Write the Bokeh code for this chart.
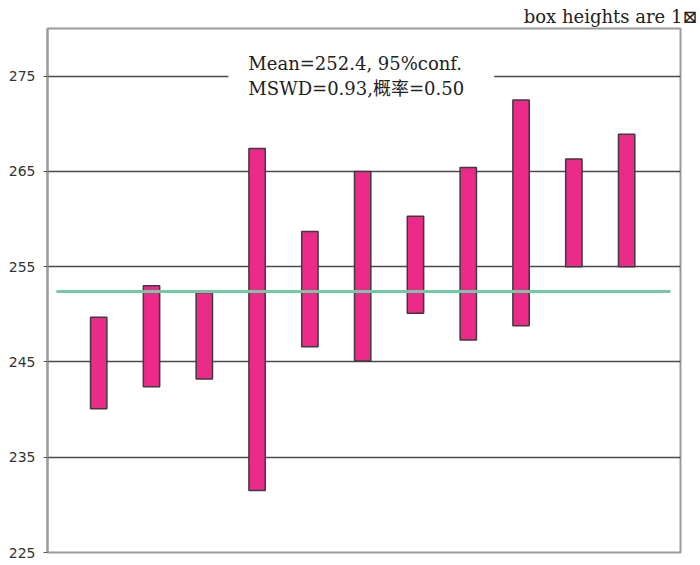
from bokeh.plotting import figure
from bokeh.models import Label, FixedTicker, ColumnDataSource, Range1d
from bokeh.embed import file_html
from bokeh.resources import INLINE

# data
sample_no = [1, 2, 3, 4, 5, 6, 7, 8, 9, 10, 11]
box_low = [240.1, 242.4, 243.2, 231.5, 246.6, 245.1, 250.1, 247.3, 248.8, 255.0, 255.0]
box_high = [249.7, 253.0, 252.3, 267.4, 258.7, 265.0, 260.3, 265.4, 272.5, 266.3, 268.9]
mean_value = 252.4
mean_x = [0.2, 11.83]
y_ticks = [225, 235, 245, 255, 265, 275]
grid_ticks = [235, 245, 255, 265, 275]
note_text = "Mean=252.4, 95%conf.\nMSWD=0.93,概率=0.50"
corner_text = "box heights are 1⊠"

serif = "'DejaVu Serif', 'Noto Sans CJK SC'"

p = figure(width=700, height=565, output_backend="svg", toolbar_location=None,
           x_range=Range1d(0.03, 12.02), y_range=Range1d(225, 280),
           min_border_left=47, min_border_right=20, min_border_top=28,
           min_border_bottom=13)
p.xaxis.visible = False
p.xgrid.visible = False
p.background_fill_color = "white"
p.border_fill_color = "white"
p.outline_line_color = "#9a9a9a"
p.outline_line_width = 2

p.title.text = corner_text
p.title.align = "right"
p.title.offset = -17
p.title.standoff = 4
p.title.text_font = serif
p.title.text_font_size = "18px"
p.title.text_font_style = "normal"
p.title.text_color = "#222222"

p.yaxis.ticker = FixedTicker(ticks=y_ticks)
p.yaxis.axis_line_color = "#9a9a9a"
p.yaxis.axis_line_width = 2
p.yaxis.major_tick_out = 4
p.yaxis.major_tick_in = 0
p.yaxis.major_tick_line_color = "#555555"
p.yaxis.minor_tick_line_color = None
p.yaxis.major_label_text_font = "DejaVu Sans"
p.yaxis.major_label_text_font_size = "14px"
p.yaxis.major_label_text_color = "#333333"
p.yaxis.major_label_standoff = 8

p.ygrid.ticker = FixedTicker(ticks=grid_ticks)
p.ygrid.grid_line_color = "#4a4a4a"
p.ygrid.grid_line_width = 1.6

src = ColumnDataSource(dict(x=sample_no, low=box_low, high=box_high))
p.vbar(x="x", width=0.31, bottom="low", top="high", source=src,
       fill_color="#ec2a8a", line_color="#3c3c3c", line_width=1.5)

p.line(x=mean_x, y=[mean_value, mean_value], line_color="#74c8a2", line_width=3)

note = Label(x=3.456, y=275, text=note_text, text_font=serif,
             text_font_size="18px", text_color="#222222", text_align="left",
             text_baseline="middle", text_line_height=1.2,
             background_fill_color="white",
             padding=dict(left=20, right=30, top=8, bottom=8))
p.add_layout(note)

open("out.html", "w").write(file_html(p, INLINE))
